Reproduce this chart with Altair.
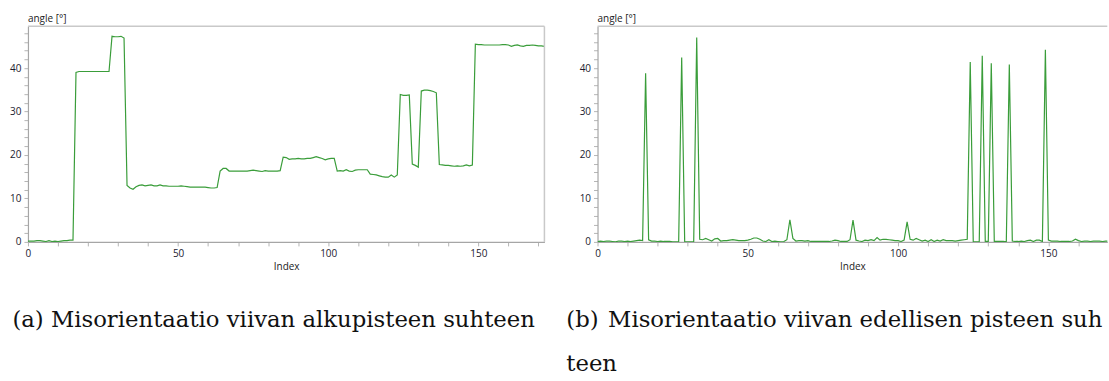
import altair as alt
import pandas as pd

# Misorientation along the line, measured against the first point (a)
angle_from_start = [
    0.2, 0.2, 0.2, 0.3, 0.3, 0.2, 0.1, 0.3, 0.1, 0.2, 0.1, 0.2, 0.3, 0.3, 0.4, 0.4,
    39.0, 39.2, 39.2, 39.2, 39.2, 39.2, 39.2, 39.2, 39.2, 39.2, 39.2, 39.2,
    47.3, 47.2, 47.2, 47.3, 46.9,
    13.0, 12.4, 12.1, 12.7, 13.0, 13.1, 12.9, 13.0, 13.1, 12.9, 12.9, 13.1, 12.9, 12.9,
    12.8, 12.8, 12.8, 12.8, 12.9, 12.8, 12.7, 12.6, 12.6, 12.6, 12.6, 12.6, 12.6, 12.5,
    12.4, 12.4, 12.5,
    16.3, 16.9, 16.9, 16.3, 16.3, 16.3, 16.3, 16.3, 16.3, 16.3, 16.4, 16.5, 16.4, 16.3,
    16.2, 16.4, 16.3, 16.3, 16.3, 16.3, 16.4,
    19.5, 19.4, 19.0, 19.1, 19.1, 19.2, 19.1, 19.1, 19.2, 19.2, 19.4, 19.6, 19.4, 19.2,
    18.9, 19.1, 19.2, 19.2,
    16.3, 16.4, 16.3, 16.6, 16.3, 16.2, 16.5, 16.6, 16.6, 16.6, 16.6,
    15.6, 15.5, 15.4, 15.2, 15.0, 14.9, 14.9, 15.4, 14.9, 15.4,
    33.9, 33.7, 33.7, 33.8,
    17.9, 17.6, 17.2,
    34.7, 34.9, 34.9, 34.8, 34.6, 34.3,
    17.8, 17.7, 17.6, 17.6, 17.5, 17.4, 17.5, 17.4, 17.5, 17.7, 17.5, 17.7,
    45.5, 45.4, 45.4, 45.3, 45.3, 45.3, 45.3, 45.3, 45.3, 45.4, 45.4, 45.3, 45.0, 45.2,
    45.3, 45.1, 45.0, 45.2, 45.2, 45.3, 45.2, 45.1, 45.1, 45.0,
]

# Misorientation between neighbouring points (b)
angle_from_previous = [
    0.1, 0.2, 0.1, 0.2, 0.2, 0.1, 0.0, 0.2, 0.2, 0.1, 0.2, 0.1, 0.2, 0.3, 0.4, 0.3,
    38.8, 0.5, 0.2, 0.2, 0.1, 0.2, 0.1, 0.1, 0.1, 0.0, 0.0, 0.1,
    42.4, 0.0, 0.0, 0.0, 0.1,
    47.0, 0.6, 0.5, 0.8, 0.5, 0.2, 0.7, 0.8, 0.2, 0.3, 0.3, 0.4, 0.5, 0.4, 0.3, 0.3,
    0.3, 0.4, 0.6, 0.9, 0.9, 0.6, 0.2, 0.1, 0.5, 0.1, 0.2, 0.1, 0.0, 0.1, 0.5,
    5.1, 0.8, 0.2, 0.3, 0.3, 0.2, 0.3, 0.1, 0.1, 0.1, 0.1, 0.1, 0.1, 0.1, 0.2, 0.4,
    0.3, 0.1, 0.1, 0.1, 0.5,
    5.0, 0.4, 0.2, 0.1, 0.4, 0.3, 0.5, 0.3, 1.0, 0.4, 0.6, 0.6, 0.5, 0.4, 0.3, 0.3,
    0.1, 0.4,
    4.6, 0.6, 0.4, 0.8, 0.5, 0.2, 0.4, 0.1, 0.5, 0.1, 0.4, 0.2, 0.5, 0.3, 0.3, 0.3,
    0.2, 0.3, 0.4, 0.5, 0.6,
    41.4, 0.1, 0.0, 0.1,
    42.8, 0.1, 0.1,
    41.1, 0.1, 0.1, 0.1, 0.1, 0.0,
    40.8, 0.2, 0.1, 0.1, 0.2, 0.1, 0.3, 0.4, 0.1, 0.4, 0.4, 0.1,
    44.2, 0.4, 0.2, 0.2, 0.2, 0.1, 0.1, 0.1, 0.1, 0.2, 0.6, 0.3, 0.1, 0.2, 0.2, 0.1,
    0.2, 0.2, 0.2, 0.1, 0.2, 0.2, 0.2, 0.2,
]

y_tick_values = list(range(0, 50, 2))
x_tick_values = list(range(0, 180, 10))

caption_a = ["(a) Misorientaatio viivan alkupisteen suhteen"]
caption_b = ["(b) \u200aMisorientaatio viivan edellisen pisteen suh-", "teen"]

GREEN = "#3a9d3a"
FRAME = "#c9c9c9"
AXIS_GREY = "#a6a6a6"
PLOT_H = 216
Y_MAX = 49.6
SERIF = "DejaVu Serif"
SANS = "Open Sans"


def panel(values, x_max, width, right_border, captions):
    df = pd.DataFrame({"Index": list(range(len(values))), "angle": values})
    xticks = [v for v in x_tick_values if v <= x_max]

    line = alt.Chart(df).mark_line(color=GREEN, strokeWidth=1.2, clip=True).encode(
        x=alt.X(
            "Index:Q",
            scale=alt.Scale(domain=[0, x_max], nice=False, zero=False),
            axis=alt.Axis(
                values=xticks,
                labelExpr="datum.value % 50 === 0 ? datum.label : ''",
                title="Index",
                titlePadding=3,
            ),
        ),
        y=alt.Y(
            "angle:Q",
            scale=alt.Scale(domain=[0, Y_MAX], nice=False),
            axis=alt.Axis(
                values=y_tick_values,
                labelExpr="datum.value % 10 === 0 ? datum.label : ''",
                title=None,
            ),
        ),
    )

    one = pd.DataFrame({"k": [0]})
    layers = [line]
    layers.append(
        alt.Chart(one).mark_rule(color=FRAME, strokeWidth=1.5).encode(
            x=alt.value(0), x2=alt.value(width), y=alt.value(0)
        )
    )
    if right_border:
        layers.append(
            alt.Chart(one).mark_rule(color=FRAME, strokeWidth=1.5).encode(
                x=alt.value(width), y=alt.value(0), y2=alt.value(PLOT_H)
            )
        )

    layers.append(
        alt.Chart(pd.DataFrame({"t": ["angle [°]"]}))
        .mark_text(align="left", baseline="alphabetic", font=SANS, fontSize=10, color="#222222")
        .encode(text="t:N", x=alt.value(0), y=alt.value(-4.3))
    )

    for text, dx, dy, limit in captions:
        layers.append(
            alt.Chart(pd.DataFrame({"t": [text]}))
            .mark_text(
                align="left", baseline="alphabetic", font=SERIF, fontSize=22.8,
                color="#111111", limit=limit, ellipsis="\u200b",
            )
            .encode(text="t:N", x=alt.value(dx), y=alt.value(dy))
        )

    return alt.layer(*layers).properties(width=width, height=PLOT_H)


left = panel(
    angle_from_start, 172, 517.4, True,
    [(caption_a[0], -15.6, 301, 0)],
)
right = panel(
    angle_from_previous, 169.6, 510.7, False,
    [(caption_b[0], -31.3, 301, 541), (caption_b[1], -31.3, 345, 0)],
)

chart = (
    alt.hconcat(left, right, spacing=52.6, bounds="flush")
    .properties(padding={"left": 9, "top": 13, "right": 0, "bottom": 0}, background="white")
    .configure_view(stroke=None)
    .configure_axis(
        grid=False,
        domainColor=AXIS_GREY,
        domainWidth=1.2,
        tickColor="#b5b5b5",
        tickSize=4,
        labelFont=SANS,
        labelFontSize=10,
        labelColor="#1c1c30",
        labelPadding=3,
        labelFlush=False,
        labelOverlap=False,
        titleFont=SANS,
        titleFontSize=10,
        titleFontWeight="normal",
        titleColor="#222222",
    )
)

chart.save("out.html", embed_options={"renderer": "svg", "actions": False})
